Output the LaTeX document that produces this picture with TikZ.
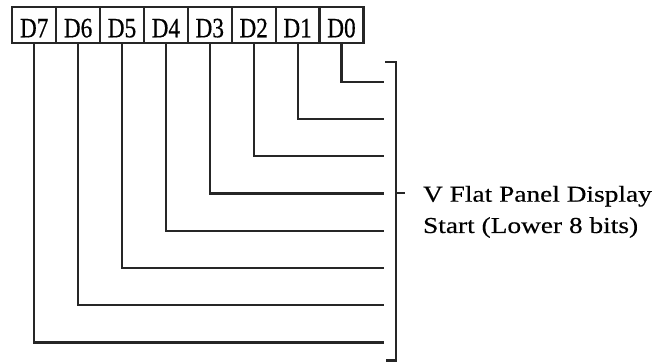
\documentclass[tikz,border=0pt]{standalone}
\usepackage{fontspec}
\setmainfont{Liberation Serif}
\newfontfamily\bitfont[FakeStretch=0.83,FakeBold=0.5]{Liberation Serif}
\newfontfamily\notefont[FakeStretch=1.2,FakeBold=0.4]{Liberation Serif}

\begin{document}
\begin{tikzpicture}[
  x=0.5pt,
  y=-0.5pt,
  bitbox/.style={draw=black!85, line width=1.1pt, minimum width=21.95pt,
    minimum height=18pt, inner sep=0pt, outer sep=0pt,
    text height=12.3pt, text depth=0pt,
    font=\bitfont\fontsize{14pt}{16pt}\selectfont},
  bitline/.style={draw=black!85, line width=1.1pt},
  bracket/.style={draw=black!85, line width=1.1pt},
  notetext/.style={anchor=base west, inner sep=0pt,
    font=\notefont\fontsize{11.4pt}{14pt}\selectfont}
]
  \useasboundingbox (0,0) rectangle (670,362);

  \foreach \i in {0,...,7} {
    \node[bitbox] (d\i) at (341.5-43.9*\i,25) {D\i};
    \coordinate (e\i) at (384,81.7+37.25*\i);
    \draw[bitline] (d\i.south) |- (e\i);
  }

  \draw[bracket] (385,62) -- (396,62) -- (396,360.5) -- (386,360.5);
  \coordinate (brk) at (396,193);
  \coordinate (brktip) at (405,193);
  \draw[bracket] (brk) -- (brktip);

  \node[notetext] (noteA) at (422.7,201.7) {V Flat Panel Display};
  \node[notetext] (noteB) at (422.7,233) {Start (Lower 8 bits)};
\end{tikzpicture}
\end{document}
